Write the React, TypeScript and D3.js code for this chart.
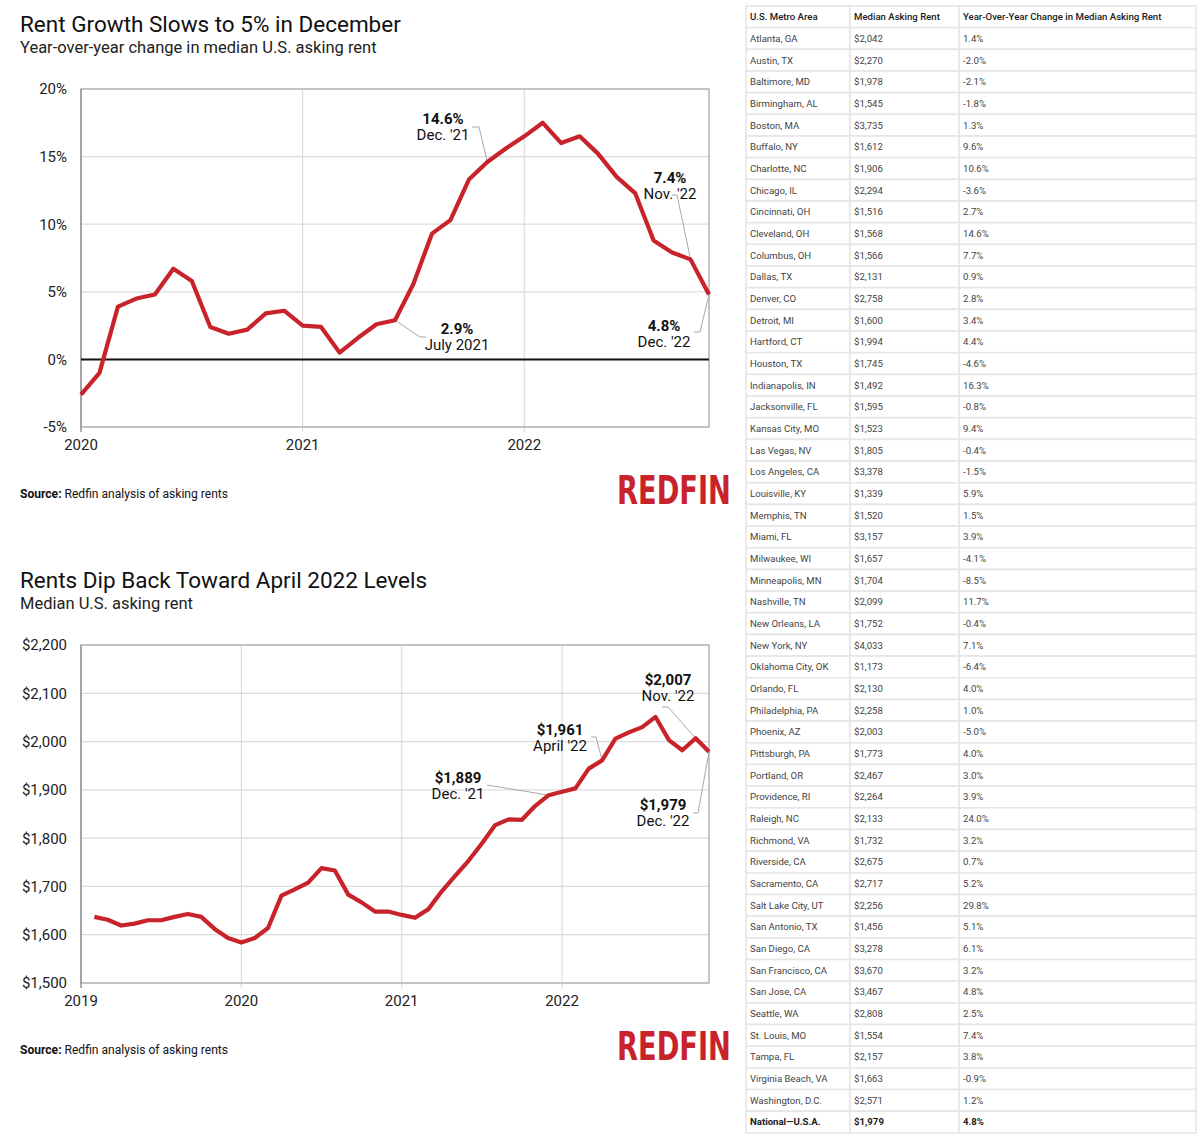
import React from 'react';
import * as d3 from 'd3';

// ---------- DATA ----------
// Top chart: YoY change in median U.S. asking rent (%), one value per month
const yoyYearTicks = ['2020', '2021', '2022'];
const yoyValues = [
  -2.6, -1.0, 3.9, 4.5, 4.8, 6.7, 5.8, 2.4, 1.9, 2.2, 3.4, 3.6,
  2.5, 2.4, 0.5, 1.6, 2.6, 2.9, 5.6, 9.3, 10.3, 13.3, 14.6, 15.6,
  16.5, 17.5, 16.0, 16.5, 15.2, 13.5, 12.3, 8.8, 7.9, 7.4, 4.8,
];
const yoyYTicks = [-5, 0, 5, 10, 15, 20];
const yoyAnnotations = [
  { idx: 22, value: '14.6%', label: "Dec. '21" },
  { idx: 17, value: '2.9%', label: 'July 2021' },
  { idx: 33, value: '7.4%', label: "Nov. '22" },
  { idx: 34, value: '4.8%', label: "Dec. '22" },
];

// Bottom chart: median U.S. asking rent ($), one value per month (from Feb 2019)
const rentYearTicks = ['2019', '2020', '2021', '2022'];
const rentValues = [
  1637, 1631, 1619, 1623, 1630, 1630, 1637, 1643, 1637, 1612, 1593,
  1584, 1593, 1614, 1681, 1694, 1708, 1738, 1733, 1683, 1667, 1648,
  1648, 1641, 1635, 1653, 1690, 1722, 1753, 1789, 1827, 1839, 1838,
  1867, 1889, 1896, 1903, 1944, 1961, 2006, 2019, 2030, 2051, 2003,
  1982, 2007, 1979,
];
const rentYTicks = [1500, 1600, 1700, 1800, 1900, 2000, 2100, 2200];
const rentAnnotations = [
  { idx: 46, value: '$2,007', label: "Nov. '22" },
  { idx: 39, value: '$1,961', label: "April '22" },
  { idx: 35, value: '$1,889', label: "Dec. '21" },
  { idx: 47, value: '$1,979', label: "Dec. '22" },
];

// Table
const tableHeaders = ['U.S. Metro Area', 'Median Asking Rent', 'Year-Over-Year Change in Median Asking Rent'];
const metros = [
  'Atlanta, GA', 'Austin, TX', 'Baltimore, MD', 'Birmingham, AL', 'Boston, MA', 'Buffalo, NY',
  'Charlotte, NC', 'Chicago, IL', 'Cincinnati, OH', 'Cleveland, OH', 'Columbus, OH', 'Dallas, TX',
  'Denver, CO', 'Detroit, MI', 'Hartford, CT', 'Houston, TX', 'Indianapolis, IN', 'Jacksonville, FL',
  'Kansas City, MO', 'Las Vegas, NV', 'Los Angeles, CA', 'Louisville, KY', 'Memphis, TN', 'Miami, FL',
  'Milwaukee, WI', 'Minneapolis, MN', 'Nashville, TN', 'New Orleans, LA', 'New York, NY',
  'Oklahoma City, OK', 'Orlando, FL', 'Philadelphia, PA', 'Phoenix, AZ', 'Pittsburgh, PA',
  'Portland, OR', 'Providence, RI', 'Raleigh, NC', 'Richmond, VA', 'Riverside, CA', 'Sacramento, CA',
  'Salt Lake City, UT', 'San Antonio, TX', 'San Diego, CA', 'San Francisco, CA', 'San Jose, CA',
  'Seattle, WA', 'St. Louis, MO', 'Tampa, FL', 'Virginia Beach, VA', 'Washington, D.C.', 'National—U.S.A.',
];
const medianRents = [
  '$2,042', '$2,270', '$1,978', '$1,545', '$3,735', '$1,612', '$1,906', '$2,294', '$1,516', '$1,568',
  '$1,566', '$2,131', '$2,758', '$1,600', '$1,994', '$1,745', '$1,492', '$1,595', '$1,523', '$1,805',
  '$3,378', '$1,339', '$1,520', '$3,157', '$1,657', '$1,704', '$2,099', '$1,752', '$4,033', '$1,173',
  '$2,130', '$2,258', '$2,003', '$1,773', '$2,467', '$2,264', '$2,133', '$1,732', '$2,675', '$2,717',
  '$2,256', '$1,456', '$3,278', '$3,670', '$3,467', '$2,808', '$1,554', '$2,157', '$1,663', '$2,571',
  '$1,979',
];
const yoyChanges = [
  '1.4%', '-2.0%', '-2.1%', '-1.8%', '1.3%', '9.6%', '10.6%', '-3.6%', '2.7%', '14.6%',
  '7.7%', '0.9%', '2.8%', '3.4%', '4.4%', '-4.6%', '16.3%', '-0.8%', '9.4%', '-0.4%',
  '-1.5%', '5.9%', '1.5%', '3.9%', '-4.1%', '-8.5%', '11.7%', '-0.4%', '7.1%', '-6.4%',
  '4.0%', '1.0%', '-5.0%', '4.0%', '3.0%', '3.9%', '24.0%', '3.2%', '0.7%', '5.2%',
  '29.8%', '5.1%', '6.1%', '3.2%', '4.8%', '2.5%', '7.4%', '3.8%', '-0.9%', '1.2%',
  '4.8%',
];

// ---------- LAYOUT / STYLE ----------
const FONT = "Roboto, 'Libre Franklin', Arial, sans-serif";
const LOGO_FONT = "'Liberation Sans Narrow', 'DejaVu Sans Condensed', Roboto, sans-serif";
const RED = '#c8232b';
const PLOT = { left: 81, right: 709, top: 89, bottom: 427 };

// label placement (pixel layout, relative to panel), keyed in order of annotations
const yoyLabelLayout = [
  { cx: 443, vy: 124, leader: [[472, 127], [479, 127]] },
  { cx: 457, vy: 334, leader: [[426, 337], [420, 337]], reverse: true },
  { cx: 670, vy: 183, leader: [[672, 195], [677, 195]] },
  { cx: 664, vy: 331, leader: [[694, 332], [700, 332]], reverse: true },
];
const rentLabelLayout = [
  { cx: 668, vy: 129, leader: [[662, 151], [668, 151]] },
  { cx: 560, vy: 179, leader: [[591, 181], [596, 181]] },
  { cx: 458, vy: 227, leader: [[487, 229]] },
  { cx: 663, vy: 254, leader: [[693, 257], [698, 257]], reverse: true },
];

type Ann = { idx: number; value: string; label: string };

function Panel(props: {
  y0: number;
  title: string;
  subtitle: string;
  values: number[];
  startIdx: number;
  nMonths: number;
  years: string[];
  yTicks: number[];
  yFmt: (v: number) => string;
  zero?: boolean;
  anns: Ann[];
  layout: any[];
}) {
  const { y0, values, startIdx, nMonths, years, yTicks, yFmt, anns, layout } = props;
  const x = d3.scaleLinear().domain([0, nMonths]).range([PLOT.left, PLOT.right]);
  const y = d3
    .scaleLinear()
    .domain([yTicks[0], yTicks[yTicks.length - 1]])
    .range([PLOT.bottom, PLOT.top]);
  const line = d3
    .line<number>()
    .x((_, i) => x(i + startIdx))
    .y((d) => y(d));
  const yearIdx = years.map((_, i) => i * 12);
  return (
    <g transform={`translate(0,${y0})`} fontFamily={FONT}>
      <text x={20} y={32} fontSize={22.5} fill="#111">{props.title}</text>
      <text x={20} y={53} fontSize={16.5} fill="#222">{props.subtitle}</text>
      {/* horizontal grid */}
      {yTicks.map((t) => (
        <line key={'h' + t} x1={PLOT.left} x2={PLOT.right} y1={y(t)} y2={y(t)} stroke="#dcdcdc" strokeWidth={1.2} />
      ))}
      {/* vertical grid */}
      {yearIdx.map((m) => (
        <line key={'v' + m} x1={x(m)} x2={x(m)} y1={PLOT.top} y2={PLOT.bottom + 5} stroke="#dcdcdc" strokeWidth={1.2} />
      ))}
      {/* frame */}
      <rect x={PLOT.left} y={PLOT.top} width={PLOT.right - PLOT.left} height={PLOT.bottom - PLOT.top}
        fill="none" stroke="#b5b5b5" strokeWidth={1.5} />
      <line x1={PLOT.left} x2={PLOT.left} y1={PLOT.top} y2={PLOT.bottom + 5} stroke="#9a9a9a" strokeWidth={1.5} />
      {props.zero && (
        <line x1={PLOT.left} x2={PLOT.right} y1={y(0)} y2={y(0)} stroke="#111" strokeWidth={2} />
      )}
      {/* y labels */}
      {yTicks.map((t) => (
        <text key={'yl' + t} x={67} y={y(t)} dy="0.36em" textAnchor="end" fontSize={15} fill="#222">{yFmt(t)}</text>
      ))}
      {/* x labels */}
      {yearIdx.map((m, i) => (
        <text key={'xl' + m} x={x(m)} y={PLOT.bottom + 23} textAnchor="middle" fontSize={15} fill="#222">{years[i]}</text>
      ))}
      {/* leaders */}
      {anns.map((a, i) => {
        const L = layout[i];
        const p: [number, number] = [x(a.idx), y(values[a.idx - startIdx])];
        const pts = L.reverse ? [p, ...L.leader.slice().reverse()] : [...L.leader, p];
        return (
          <polyline key={'ld' + i} points={pts.map((q: number[]) => q.join(',')).join(' ')}
            fill="none" stroke="#a8a8a8" strokeWidth={1} />
        );
      })}
      {/* series line */}
      <path d={line(values) || ''} fill="none" stroke={RED} strokeWidth={4.2} strokeLinejoin="round" strokeLinecap="butt" />
      {/* annotation labels */}
      {anns.map((a, i) => {
        const L = layout[i];
        return (
          <g key={'an' + i}>
            <text x={L.cx} y={L.vy} textAnchor="middle" fontSize={15} fontWeight={700} fill="#111">{a.value}</text>
            <text x={L.cx} y={L.vy + 16} textAnchor="middle" fontSize={15} fill="#111">{a.label}</text>
          </g>
        );
      })}
      {/* source */}
      <text x={20} y={498} fontSize={12.5} fill="#111" textLength={208} lengthAdjust="spacingAndGlyphs">
        <tspan fontWeight={700}>Source:</tspan> Redfin analysis of asking rents
      </text>
      {/* logo */}
      <text transform="translate(617,504) scale(0.78,1)" fontFamily={LOGO_FONT} fontSize={39} fill={RED}
        fontWeight={700} textLength={146} lengthAdjust="spacingAndGlyphs">REDFIN</text>
    </g>
  );
}

function Table() {
  const cols = [746, 850, 959, 1196];
  const top = 6;
  const rowH = 21.67;
  const rows = [tableHeaders, ...metros.map((m, i) => [m, medianRents[i], yoyChanges[i]])];
  return (
    <g fontFamily={FONT}>
      {rows.map((r, ri) => (
        <g key={ri}>
          {r.map((c, ci) => (
            <g key={ci}>
              <rect x={cols[ci]} y={top + ri * rowH} width={cols[ci + 1] - cols[ci]} height={rowH}
                fill="#fff" stroke="#e6e6e6" strokeWidth={1.6} />
              <text x={cols[ci] + 4} y={top + ri * rowH + rowH / 2} dy="0.35em" fontSize={9.6}
                fill={ri === 0 || ri === rows.length - 1 ? '#1a1a1a' : '#444'}
                fontWeight={ri === 0 ? 500 : ri === rows.length - 1 ? 700 : 400}>{c}</text>
            </g>
          ))}
        </g>
      ))}
    </g>
  );
}

export default function App() {
  return (
    <div style={{ position: 'absolute', left: 0, top: 0 }}>
      <svg width={1200} height={1138} style={{ display: 'block', background: '#fff' }}>
        <rect width={1200} height={1138} fill="#fff" />
        <Panel y0={0} title="Rent Growth Slows to 5% in December" subtitle="Year-over-year change in median U.S. asking rent"
          values={yoyValues} startIdx={0} nMonths={34} years={yoyYearTicks} yTicks={yoyYTicks}
          yFmt={(v) => `${v}%`} zero anns={yoyAnnotations} layout={yoyLabelLayout} />
        <Panel y0={556} title="Rents Dip Back Toward April 2022 Levels" subtitle="Median U.S. asking rent"
          values={rentValues} startIdx={1} nMonths={47} years={rentYearTicks} yTicks={rentYTicks}
          yFmt={(v) => '$' + d3.format(',')(v)} anns={rentAnnotations} layout={rentLabelLayout} />
        <Table />
      </svg>
    </div>
  );
}
